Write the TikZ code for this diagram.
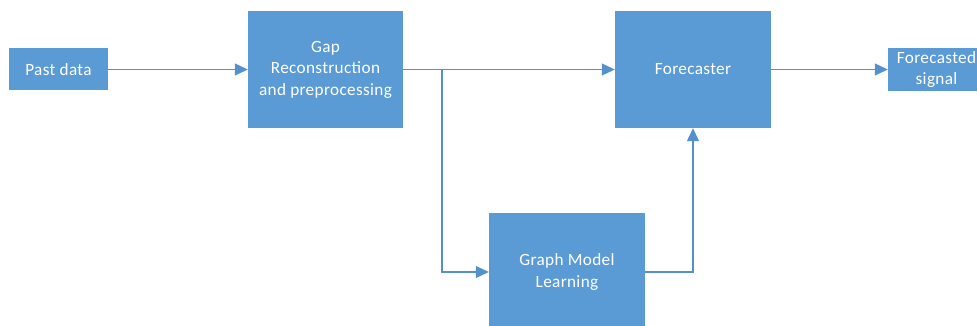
\documentclass[tikz,border=0pt]{standalone}
\usepackage{fontspec}
\setmainfont{Carlito}[LetterSpace=2]
\usetikzlibrary{arrows.meta}
\definecolor{boxblue}{HTML}{5B9BD5}
\definecolor{lineblue}{HTML}{5490CC}
\begin{document}
\begin{tikzpicture}[x=1pt,y=1pt,
  blk/.style={fill=boxblue,draw=none,text=white,inner sep=0pt,align=center,
    font=\fontsize{17.2}{21.5}\selectfont},
  conn/.style={draw=lineblue,line width=1.1pt,-{Triangle[length=13pt,width=12pt]}},
  seg/.style={draw=lineblue,line width=1.1pt}]
\useasboundingbox (0,0) rectangle (977,326);
\begin{scope}
\clip (0,0) rectangle (977,326);
\node[blk,minimum width=99pt,minimum height=42pt] (past) at (58.5,256.5) {Past data};
\node[blk,minimum width=155pt,minimum height=117pt] (gap) at (325.5,256.5) {\raisebox{-2pt}{\parbox{155pt}{\centering Gap\\Reconstruction\\and preprocessing}}};
\node[blk,minimum width=156pt,minimum height=117pt] (fore) at (693,256.5) {Forecaster};
\node[blk,minimum width=97pt,minimum height=43pt] (sig) at (936.5,256.5) {Forecasted\\signal};
\node[blk,minimum width=156pt,minimum height=118pt] (graph) at (567,54) {\raisebox{-2pt}{\parbox{156pt}{\centering Graph Model\\Learning}}};
\end{scope}
\coordinate (br) at (442,256.5);
\draw[conn] (past) -- (gap);
\draw[conn] (gap) -- (fore);
\draw[conn] (br) |- (graph.west);
\draw[conn] (graph.east) -| (fore.south);
\draw[conn] (fore) -- (sig);
\end{tikzpicture}
\end{document}
